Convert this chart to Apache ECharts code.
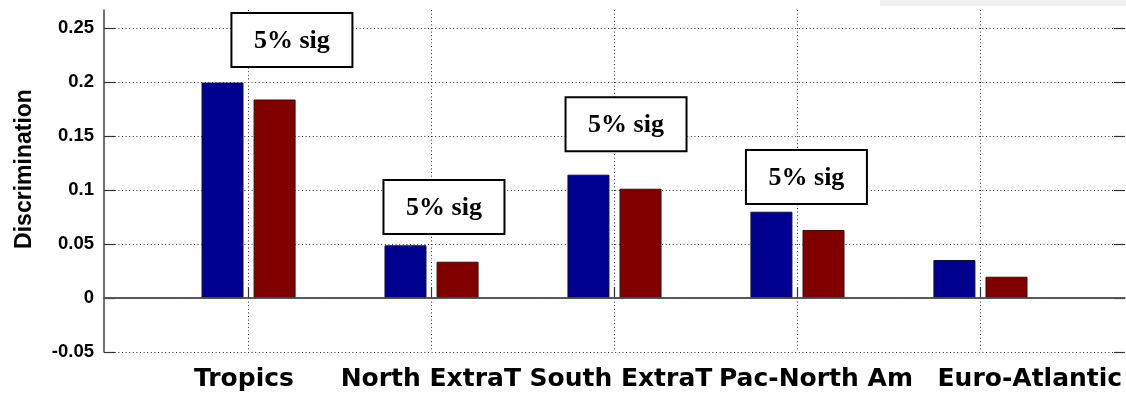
<!DOCTYPE html>
<html>
<head>
<meta charset="utf-8">
<script src="https://cdn.jsdelivr.net/npm/echarts@6/dist/echarts.min.js"></script>
<style>
  html, body { margin: 0; padding: 0; background: #fff; }
  #chart { width: 1126px; height: 394px; }
</style>
</head>
<body>
<div id="chart"></div>
<script>
// Regions along the x axis
const regions = ['Tropics', 'North ExtraT', 'South ExtraT', 'Pac-North Am', 'Euro-Atlantic'];
const regionPos = [1, 2, 3, 4, 5];
// Region names are laid out as one spread-out caption under the axis
const regionLabelPos = [0.975, 1.996, 3.035, 4.101, 5.27];

// Discrimination per region, two experiments
const discrimA = [0.1995, 0.0488, 0.1142, 0.0799, 0.0352];
const discrimB = [0.1838, 0.0336, 0.1012, 0.0630, 0.0197];

// Y tick values and their labels
const yTicks = [-0.05, 0, 0.05, 0.1, 0.15, 0.2, 0.25];
const yTickLabels = ['-0.05', '0', '0.05', '0.1', '0.15', '0.2', '0.25'];

// Significance notes: region index they belong to and their text
const sigRegions = [0, 1, 2, 3];
const sigText = '5% sig';
// Where each note box sits, in axis units (centre x, top y)
const sigAnchors = [[1.237, 0.2639], [2.068, 0.1093], [3.063, 0.186], [4.049, 0.137]];

const chart = echarts.init(document.getElementById('chart'), null, { renderer: 'canvas' });

const dotted = { color: '#2a2a2a', width: 1, type: [1, 2.6] };

const option = {
  animation: false,
  backgroundColor: '#fff',
  grid: { left: 104, right: 1, top: 10, bottom: 42, containLabel: false },
  xAxis: [{
    type: 'value',
    min: 0.21,
    max: 5.79,
    axisLine: { show: true, lineStyle: { color: '#444', width: 1.5 } },
    axisTick: { show: true, inside: true, length: 11, customValues: regionPos, lineStyle: { color: '#333', width: 1.2 } },
    axisLabel: { show: false },
    splitLine: { show: true, lineStyle: dotted }
  }, {
    // caption axis: carries only the region names
    type: 'value',
    position: 'bottom',
    min: 0.21,
    max: 5.79,
    axisLine: { show: false },
    axisTick: { show: false },
    splitLine: { show: false },
    axisLabel: {
      customValues: regionLabelPos,
      formatter: v => { const i = regionLabelPos.findIndex(t => Math.abs(t - v) < 1e-9); return i >= 0 ? regions[i] : ''; },
      fontFamily: 'DejaVu Sans', fontWeight: 'bold', fontSize: 25, color: '#000', margin: 15
    }
  }],
  yAxis: [{
    type: 'value',
    min: -0.05,
    max: 0.2667,
    axisLine: { show: true, lineStyle: { color: '#444', width: 1.5 } },
    axisTick: { show: true, inside: true, length: 11, customValues: yTicks, lineStyle: { color: '#333', width: 1.2 } },
    axisLabel: {
      customValues: yTicks,
      formatter: v => { const i = yTicks.findIndex(t => Math.abs(t - v) < 1e-9); return i >= 0 ? yTickLabels[i] : ''; },
      fontFamily: 'Liberation Sans', fontWeight: 'bold', fontSize: 18.5, color: '#000', margin: 10
    },
    splitLine: { show: true, lineStyle: dotted }
  }, {
    type: 'value',
    position: 'right',
    min: -0.05,
    max: 0.2667,
    axisLine: { show: false },
    axisTick: { show: true, inside: true, length: 11, customValues: yTicks, lineStyle: { color: '#333', width: 1.2 } },
    axisLabel: { show: false },
    splitLine: { show: false }
  }],
  series: [{
    type: 'bar',
    name: 'A',
    xAxisIndex: 0,
    data: regionPos.map((x, i) => [x, discrimA[i]]),
    barWidth: 42,
    barGap: '24%',
    itemStyle: { color: '#00008f', borderColor: '#101030', borderWidth: 1 },
    markLine: {
      silent: true, symbol: 'none', label: { show: false },
      lineStyle: { color: '#555', width: 1.5, type: 'solid' },
      data: [{ yAxis: 0 }]
    }
  }, {
    type: 'bar',
    name: 'B',
    xAxisIndex: 0,
    data: regionPos.map((x, i) => [x, discrimB[i]]),
    barWidth: 42,
    barGap: '24%',
    itemStyle: { color: '#800000', borderColor: '#301010', borderWidth: 1 }
  }]
};

chart.setOption(option);

// Significance boxes placed from axis units
function placeNotes() {
  const boxW = 121, boxH = 54;
  const elements = sigRegions.map((r, k) => {
    const p = chart.convertToPixel({ xAxisIndex: 0, yAxisIndex: 0 }, sigAnchors[k]);
    return {
      type: 'group',
      x: p[0] - boxW / 2,
      y: p[1],
      z: 100,
      children: [{
        type: 'rect',
        shape: { x: 0, y: 0, width: boxW, height: boxH },
        style: { fill: '#fff', stroke: '#000', lineWidth: 2 }
      }, {
        type: 'text',
        x: boxW / 2,
        y: boxH / 2 + 1,
        style: {
          text: sigText, fill: '#000',
          font: 'bold 26px "Liberation Serif", "Times New Roman", serif',
          align: 'center', verticalAlign: 'middle'
        }
      }]
    };
  });
  elements.push({
    type: 'text',
    x: 25, y: 169,
    rotation: Math.PI / 2,
    style: {
      text: 'Discrimination', fill: '#000',
      font: 'bold 23px "Liberation Sans", Arial, sans-serif',
      align: 'center', verticalAlign: 'middle'
    }
  });
  elements.push({
    type: 'rect',
    shape: { x: 880, y: 0, width: 246, height: 6 },
    style: { fill: '#f1f1f1' },
    z: -1
  });
  chart.setOption({ graphic: { elements } });
}
placeNotes();
</script>
</body>
</html>
